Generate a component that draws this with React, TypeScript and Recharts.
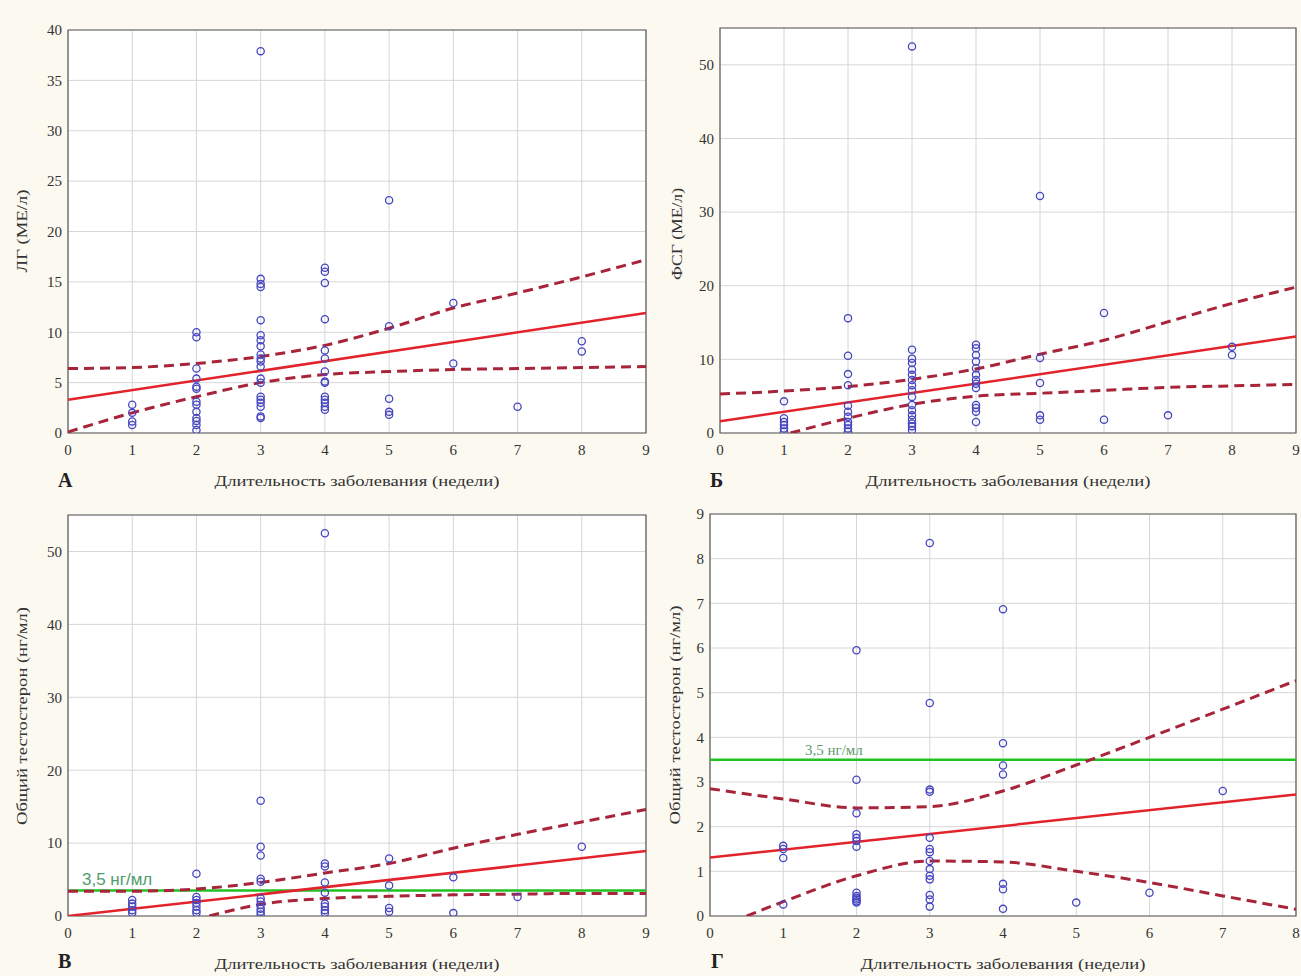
import React from 'react';
import {
  ComposedChart,
  XAxis,
  YAxis,
  CartesianGrid,
  Scatter,
  Line,
  ReferenceLine,
  ReferenceArea,
} from 'recharts';

// ---------- DATA ----------
const xTitle = 'Длительность заболевания (недели)';
const weeks9 = [0, 1, 2, 3, 4, 5, 6, 7, 8, 9];
const weeks8 = [0, 1, 2, 3, 4, 5, 6, 7, 8];

// Panel A: ЛГ (МЕ/л)
const lhPoints: [number, number][] = [
  [1, 2.8], [1, 2.0], [1, 1.15], [1, 0.8],
  [2, 10.0], [2, 9.5], [2, 6.4], [2, 5.4], [2, 4.6], [2, 4.4], [2, 3.1], [2, 2.8], [2, 2.1], [2, 1.5], [2, 1.2], [2, 0.8], [2, 0.3],
  [3, 37.9], [3, 15.3], [3, 14.8], [3, 14.5], [3, 11.2], [3, 9.7], [3, 9.2], [3, 8.6], [3, 7.8], [3, 7.4], [3, 7.1], [3, 6.6], [3, 5.4], [3, 5.0], [3, 3.6], [3, 3.3], [3, 3.0], [3, 2.6], [3, 1.65], [3, 1.5],
  [4, 16.4], [4, 16.0], [4, 14.9], [4, 11.3], [4, 8.2], [4, 7.4], [4, 6.1], [4, 5.1], [4, 5.0], [4, 3.6], [4, 3.3], [4, 3.0], [4, 2.6], [4, 2.3],
  [5, 23.1], [5, 10.6], [5, 3.4], [5, 2.1], [5, 1.8],
  [6, 12.9], [6, 6.9],
  [7, 2.6],
  [8, 9.1], [8, 8.1],
];
const lhFitX = [0, 9];
const lhFit = [3.3, 11.9];
const lhUpper = [6.4, 6.5, 6.9, 7.6, 8.7, 10.4, 12.4, 13.9, 15.5, 17.2];
const lhLowerX = weeks9;
const lhLower = [0.1, 2.0, 3.6, 5.0, 5.8, 6.1, 6.3, 6.4, 6.5, 6.6];
const lhTicks = [0, 5, 10, 15, 20, 25, 30, 35, 40];

// Panel Б: ФСГ (МЕ/л)
const fshPoints: [number, number][] = [
  [1, 4.3], [1, 2.0], [1, 1.5], [1, 1.1], [1, 0.6], [1, 0.2],
  [2, 15.6], [2, 10.5], [2, 8.0], [2, 6.5], [2, 3.7], [2, 2.9], [2, 2.2], [2, 1.5], [2, 1.1], [2, 0.6], [2, 0.2],
  [3, 52.5], [3, 11.3], [3, 10.1], [3, 9.5], [3, 8.6], [3, 7.9], [3, 7.2], [3, 6.5], [3, 5.8], [3, 4.9], [3, 3.8], [3, 3.1], [3, 2.4], [3, 1.8], [3, 1.3], [3, 0.9], [3, 0.4],
  [4, 12.0], [4, 11.5], [4, 10.6], [4, 9.7], [4, 8.8], [4, 7.9], [4, 7.2], [4, 6.7], [4, 6.1], [4, 3.8], [4, 3.4], [4, 2.9], [4, 1.5],
  [5, 32.2], [5, 10.2], [5, 6.8], [5, 2.4], [5, 1.8],
  [6, 16.3], [6, 1.8],
  [7, 2.4],
  [8, 11.7], [8, 10.6],
];
const fshFitX = [0, 9];
const fshFit = [1.6, 13.1];
const fshUpper = [5.3, 5.7, 6.3, 7.3, 8.7, 10.7, 12.6, 15.1, 17.6, 19.8];
const fshLowerX = [1.1, 2, 3, 4, 5, 6, 7, 8, 9];
const fshLower = [0, 2.0, 3.9, 5.0, 5.4, 5.8, 6.2, 6.4, 6.6];
const tick50 = [0, 10, 20, 30, 40, 50];

// Panel В: Общий тестостерон (нг/мл), all
const ttPoints: [number, number][] = [
  [1, 2.2], [1, 1.7], [1, 1.3], [1, 0.8], [1, 0.4],
  [2, 5.8], [2, 2.6], [2, 2.2], [2, 1.8], [2, 1.3], [2, 0.8], [2, 0.4],
  [3, 15.8], [3, 9.5], [3, 8.3], [3, 5.1], [3, 4.7], [3, 2.4], [3, 2.0], [3, 1.5], [3, 1.0], [3, 0.6], [3, 0.2],
  [4, 52.5], [4, 7.2], [4, 6.8], [4, 4.6], [4, 3.2], [4, 1.7], [4, 1.3], [4, 0.8], [4, 0.4],
  [5, 7.9], [5, 4.2], [5, 1.1], [5, 0.6],
  [6, 5.3], [6, 0.4],
  [7, 2.6],
  [8, 9.5],
];
const ttFitX = [0, 9];
const ttFit = [0, 8.9];
const ttUpper = [3.4, 3.4, 3.7, 4.6, 5.9, 7.2, 9.3, 11.2, 12.9, 14.6];
const ttLowerX = [2.2, 3, 4, 5, 6, 7, 8, 9];
const ttLower = [0, 1.6, 2.4, 2.7, 2.9, 3.0, 3.1, 3.1];

// Panel Г: Общий тестостерон (нг/мл)
const tt2Points: [number, number][] = [
  [1, 1.57], [1, 1.5], [1, 1.3], [1, 0.26],
  [2, 5.95], [2, 3.05], [2, 2.3], [2, 1.83], [2, 1.75], [2, 1.68], [2, 1.55], [2, 0.52], [2, 0.45], [2, 0.41], [2, 0.37], [2, 0.33], [2, 0.3],
  [3, 8.35], [3, 4.77], [3, 2.83], [3, 2.78], [3, 1.75], [3, 1.5], [3, 1.43], [3, 1.23], [3, 1.05], [3, 0.9], [3, 0.82], [3, 0.47], [3, 0.37], [3, 0.21],
  [4, 6.87], [4, 3.87], [4, 3.37], [4, 3.17], [4, 0.72], [4, 0.6], [4, 0.16],
  [5, 0.3],
  [6, 0.52],
  [7, 2.8],
];
const tt2FitX = [0, 8];
const tt2Fit = [1.31, 2.72];
const tt2Upper = [2.85, 2.62, 2.42, 2.45, 2.8, 3.38, 4.0, 4.63, 5.27];
const tt2LowerX = [0.5, 1, 2, 3, 4, 5, 6, 7, 8];
const tt2Lower = [0, 0.32, 0.9, 1.23, 1.21, 1.0, 0.75, 0.45, 0.15];
const tick9 = [0, 1, 2, 3, 4, 5, 6, 7, 8, 9];

const threshold = 3.5;
const thresholdLabel = '3,5 нг/мл';

// ---------- HELPERS ----------
const zip = (xs: number[], ys: number[]) => xs.map((x, i) => ({ x, y: ys[i] }));
const pts = (p: [number, number][]) => p.map(([x, y]) => ({ x, y }));

const SERIF = 'Liberation Serif';
const BG = '#fcf9f1';

const Circle = (p: any) =>
  p.cx == null ? null : (
    <circle cx={p.cx} cy={p.cy} r={3.6} fill="none" stroke="#4646c0" strokeWidth={1.3} />
  );

type PanelProps = {
  left: number;
  top: number;
  width: number;
  height: number;
  margin: { top: number; right: number; bottom: number; left: number };
  yAxisWidth: number;
  xMax: number;
  xTicks: number[];
  yMax: number;
  yTicks: number[];
  points: { x: number; y: number }[];
  fit: { x: number; y: number }[];
  upper: { x: number; y: number }[];
  lower: { x: number; y: number }[];
  green?: { dx: number; dy: number; size: number; family: string; color: string };
};

function Panel(p: PanelProps) {
  const tickStyle = { fill: '#333', fontSize: 15, fontFamily: SERIF };
  return (
    <div style={{ position: 'absolute', left: p.left, top: p.top, width: p.width, height: p.height }}>
      <ComposedChart
        width={p.width}
        height={p.height}
        margin={p.margin}
        style={{ fontFamily: SERIF }}
      >
        <CartesianGrid stroke="#d6d6d6" fill="#ffffff" strokeWidth={1} />
        <XAxis
          dataKey="x"
          type="number"
          domain={[0, p.xMax]}
          ticks={p.xTicks}
          interval={0}
          allowDataOverflow
          axisLine={false}
          tickLine={false}
          tickSize={6}
          tickMargin={5}
          height={30}
          tick={tickStyle}
        />
        <YAxis
          type="number"
          domain={[0, p.yMax]}
          ticks={p.yTicks}
          interval={0}
          allowDataOverflow
          axisLine={false}
          tickLine={false}
          tickSize={3}
          tickMargin={3}
          width={p.yAxisWidth}
          tick={tickStyle}
        />
        <Scatter data={p.points} dataKey="y" shape={Circle} isAnimationActive={false} />
        {p.green && (
          <ReferenceLine
            y={threshold}
            stroke="#22c022"
            strokeWidth={2.5}
            label={(lp: any) => {
              const vb = lp.viewBox || {};
              const g = p.green!;
              return (
                <text
                  x={(vb.x || 0) + g.dx}
                  y={(vb.y || 0) + g.dy}
                  fill={g.color}
                  fontSize={g.size}
                  fontFamily={g.family}
                >
                  {thresholdLabel}
                </text>
              );
            }}
          />
        )}
        <Line
          data={p.upper}
          dataKey="y"
          type="monotone"
          stroke="#a8243a"
          strokeWidth={3}
          strokeDasharray="10 6"
          dot={false}
          activeDot={false}
          isAnimationActive={false}
        />
        <Line
          data={p.lower}
          dataKey="y"
          type="monotone"
          stroke="#a8243a"
          strokeWidth={3}
          strokeDasharray="10 6"
          dot={false}
          activeDot={false}
          isAnimationActive={false}
        />
        <Line
          data={p.fit}
          dataKey="y"
          type="linear"
          stroke="#e3232b"
          strokeWidth={2.5}
          dot={false}
          activeDot={false}
          isAnimationActive={false}
        />
        <ReferenceArea x1={0} x2={p.xMax} y1={0} y2={p.yMax} fill="none" stroke="#5a5a5a" strokeWidth={1.2} />
      </ComposedChart>
    </div>
  );
}

function Labels() {
  const rot = (cx: number, cy: number, text: string, len: number) => (
    <text
      x={cx}
      y={cy}
      transform={`rotate(-90 ${cx} ${cy})`}
      textAnchor="middle"
      dominantBaseline="central"
      fontFamily={SERIF}
      fontSize={15}
      fill="#333"
      textLength={len}
      lengthAdjust="spacingAndGlyphs"
    >
      {text}
    </text>
  );
  const title = (cx: number, y: number) => (
    <text
      x={cx}
      y={y}
      textAnchor="middle"
      fontFamily={SERIF}
      fontSize={15}
      fill="#333"
      textLength={285}
      lengthAdjust="spacingAndGlyphs"
    >
      {xTitle}
    </text>
  );
  const letter = (x: number, y: number, t: string) => (
    <text x={x} y={y} fontFamily={SERIF} fontSize={20} fontWeight="bold" fill="#222">
      {t}
    </text>
  );
  return (
    <svg
      width={1301}
      height={976}
      style={{ position: 'absolute', left: 0, top: 0, pointerEvents: 'none' }}
    >
      {rot(22, 231, 'ЛГ (МЕ/л)', 83)}
      {rot(677, 234, 'ФСГ (МЕ/л)', 92)}
      {rot(22, 716, 'Общий тестостерон (нг/мл)', 218)}
      {rot(675, 715, 'Общий тестостерон (нг/мл)', 219)}
      {title(357, 486)}
      {title(1008, 486)}
      {title(357, 969)}
      {title(1003, 969)}
      {letter(58, 487, 'А')}
      {letter(710, 487, 'Б')}
      {letter(58, 968, 'В')}
      {letter(711, 968, 'Г')}
    </svg>
  );
}

export default function App() {
  return (
    <div
      style={{
        position: 'absolute',
        left: 0,
        top: 0,
        width: 1301,
        height: 976,
        background: BG,
        overflow: 'hidden',
        fontFamily: SERIF,
      }}
    >
      <Panel
        left={0}
        top={0}
        width={660}
        height={500}
        margin={{ top: 30, right: 14, bottom: 37, left: 0 }}
        yAxisWidth={68}
        xMax={9}
        xTicks={weeks9}
        yMax={40}
        yTicks={lhTicks}
        points={pts(lhPoints)}
        fit={zip(lhFitX, lhFit)}
        upper={zip(weeks9, lhUpper)}
        lower={zip(lhLowerX, lhLower)}
      />
      <Panel
        left={650}
        top={0}
        width={651}
        height={500}
        margin={{ top: 28, right: 5, bottom: 37, left: 0 }}
        yAxisWidth={70}
        xMax={9}
        xTicks={weeks9}
        yMax={55}
        yTicks={tick50}
        points={pts(fshPoints)}
        fit={zip(fshFitX, fshFit)}
        upper={zip(weeks9, fshUpper)}
        lower={zip(fshLowerX, fshLower)}
      />
      <Panel
        left={0}
        top={500}
        width={660}
        height={476}
        margin={{ top: 15, right: 14, bottom: 30, left: 0 }}
        yAxisWidth={68}
        xMax={9}
        xTicks={weeks9}
        yMax={55}
        yTicks={tick50}
        points={pts(ttPoints)}
        fit={zip(ttFitX, ttFit)}
        upper={zip(weeks9, ttUpper)}
        lower={zip(ttLowerX, ttLower)}
        green={{ dx: 14, dy: -5, size: 17, family: 'Liberation Sans', color: '#4f9c6c' }}
      />
      <Panel
        left={650}
        top={500}
        width={651}
        height={476}
        margin={{ top: 14, right: 5, bottom: 30, left: 0 }}
        yAxisWidth={60}
        xMax={8}
        xTicks={weeks8}
        yMax={9}
        yTicks={tick9}
        points={pts(tt2Points)}
        fit={zip(tt2FitX, tt2Fit)}
        upper={zip(weeks8, tt2Upper)}
        lower={zip(tt2LowerX, tt2Lower)}
        green={{ dx: 95, dy: -5, size: 15, family: SERIF, color: '#5f9a6e' }}
      />
      <Labels />
    </div>
  );
}
